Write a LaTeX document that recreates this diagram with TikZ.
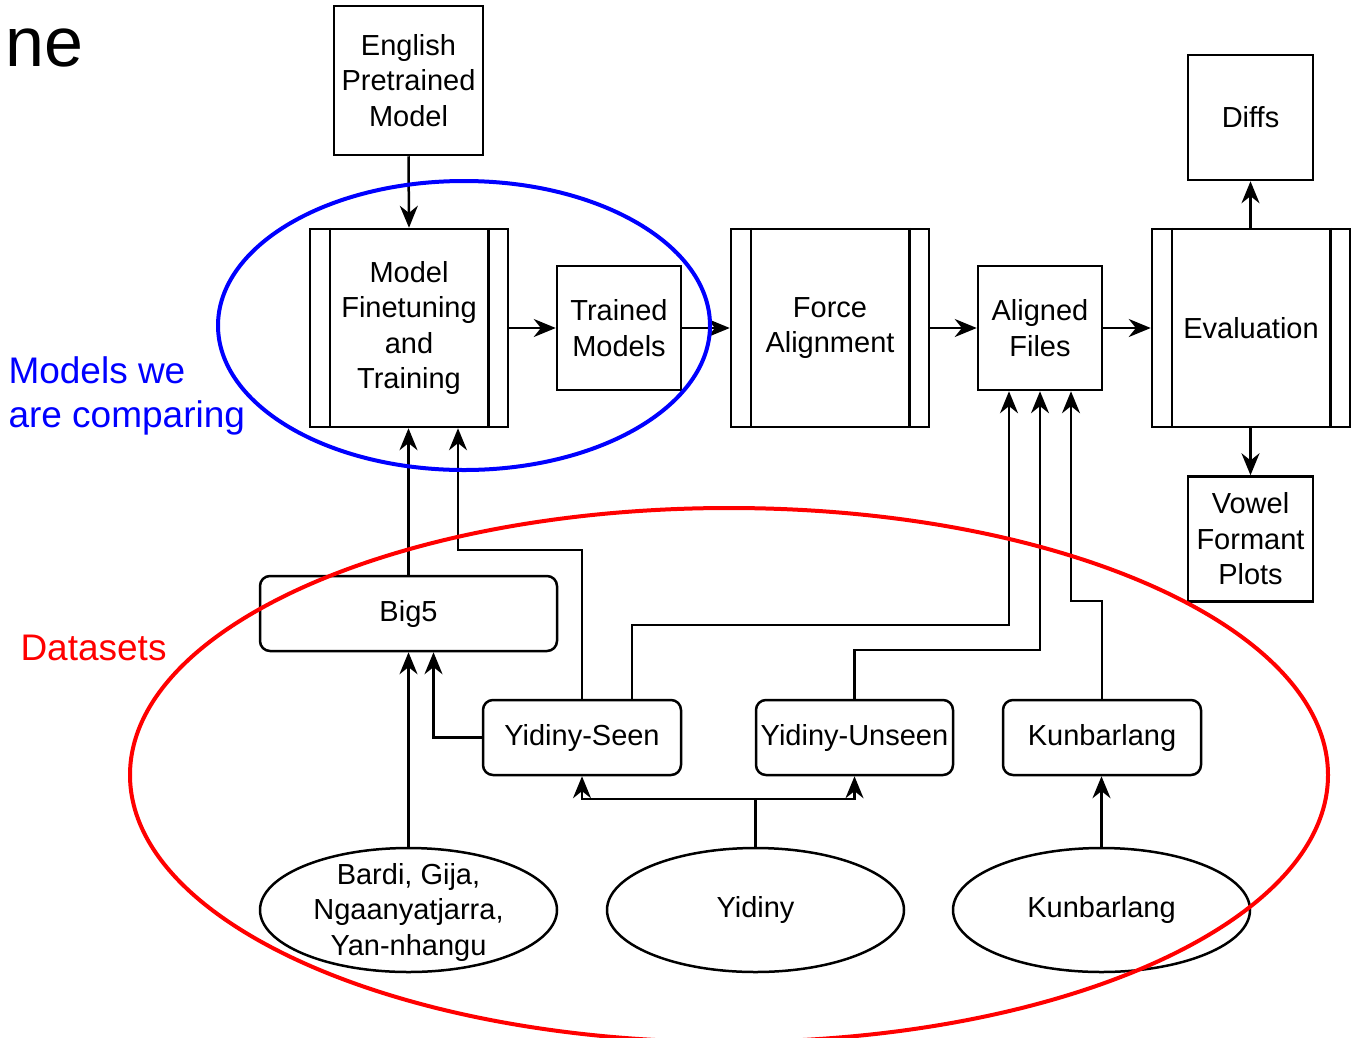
\documentclass[tikz,border=0pt]{standalone}
\usepackage{fontspec}
\setmainfont{Liberation Sans}
\usetikzlibrary{arrows.meta,shapes.geometric}
\begin{document}
\begin{tikzpicture}[x=1pt,y=-1pt,
  font=\fontsize{29}{35.5}\selectfont,
  box/.style={draw, line width=2.5pt, inner sep=0pt, align=center, fill=white},
  sq/.style={box, minimum width=#1, minimum height=#1},
  proc/.style={box, minimum width=198pt, minimum height=198pt},
  dset/.style={box, rounded corners=10pt, minimum width=198pt, minimum height=75pt},
  src/.style={box, ellipse, minimum width=297pt, minimum height=124pt},
  txt/.style={align=center, inner sep=0pt},
  conn/.style={line width=2.5pt, -{Stealth[length=22pt,width=18pt]}},
  hl/.style={line width=4pt}
]
\useasboundingbox (0,0) rectangle (1353,1037);
\fill[white] (0,0) rectangle (1353,1037);

\node[anchor=base west, font=\fontsize{70}{80}\selectfont] (ne) at (2,66) {ne};

% top row
\node[sq=149pt] (eng) at (408.5,80.5) {English\\Pretrained\\Model};
\node[proc] (mft) at (409,328) {Model\\Finetuning\\and\\Training};
\node[sq=124pt] (tm) at (619,328) {Trained\\Models};
\node[proc] (fa) at (830,328) {Force\\Alignment};
\node[sq=124pt] (af) at (1040,328) {Aligned\\Files};
\node[proc] (ev) at (1251,328) {Evaluation};
\node[sq=125pt] (diffs) at (1250.5,117.5) {Diffs};
\node[sq=125pt] (vfp) at (1250.5,539) {Vowel\\Formant\\Plots};

\foreach \n in {mft,fa,ev}{
  \draw[line width=2.5pt] ([xshift=21pt]\n.north west) -- ([xshift=21pt]\n.south west);
  \draw[line width=2.5pt] ([xshift=-21pt]\n.north east) -- ([xshift=-21pt]\n.south east);
}

% datasets
\node[dset, minimum width=297pt] (big5) at (408.5,613.5) {Big5};
\node[dset] (ys) at (582,737.5) {Yidiny-Seen};
\node[dset, minimum width=197pt] (yu) at (854.5,737.5) {Yidiny-Unseen};
\node[dset] (kb) at (1102,737.5) {Kunbarlang};
\node[src] (bardi) at (408.5,910) {};
\node[txt] (bardit) at (408.5,912) {Bardi, Gija,\\Ngaanyatjarra,\\Yan-nhangu};
\node[src] (yid) at (755.5,910) {};
\node[txt] (yidt) at (yid) {Yidiny};
\node[src] (kbe) at (1101.5,910) {};
\node[txt] (kbet) at (kbe) {Kunbarlang};

% connectors
\draw[conn] (eng.south) -- (mft.north);
\draw[conn] (mft.east) -- (tm.west);
\draw[conn] (tm.east) -- (fa.west);
\draw[conn] (fa.east) -- (af.west);
\draw[conn] (af.east) -- (ev.west);
\draw[conn] ([xshift=-0.5pt]ev.north) -- (diffs.south);
\draw[conn] ([xshift=-0.5pt]ev.south) -- (vfp.north);
\draw[conn] (big5.north) -- (big5.north |- mft.south);
\draw[conn] (ys.north) -- ++(0,-149) -| ([xshift=49pt]mft.south);
\draw[conn] ([xshift=50pt]ys.north) -- ++(0,-74) -| ([xshift=-31pt]af.south);
\draw[conn] (yu.north) -- ++(0,-49) -| (af.south);
\draw[conn] (kb.north) -- ++(0,-98) -| ([xshift=31pt]af.south);
\draw[conn] (ys.west) -| ([xshift=25pt]big5.south);
\draw[conn] (bardi.north) -- (big5.south);
\draw[conn] (yid.north) -- ++(0,-48) -| (ys.south);
\draw[conn] (yid.north) -- ++(0,-48) -| (yu.south);
\draw[conn] (kbe.north) -- (kbe.north |- kb.south);

% highlight ellipses and labels
\draw[hl, blue] (464,325.5) ellipse [x radius=246, y radius=144.5];
\draw[hl, red] (729,775) ellipse [x radius=599, y radius=267];
\node[blue, anchor=west, align=left, font=\fontsize{37}{44}\selectfont] (mlab) at (5,396) {Models we\\are comparing};
\node[red, anchor=west, font=\fontsize{37}{44}\selectfont] (dlab) at (17,648) {Datasets};
\end{tikzpicture}
\end{document}
